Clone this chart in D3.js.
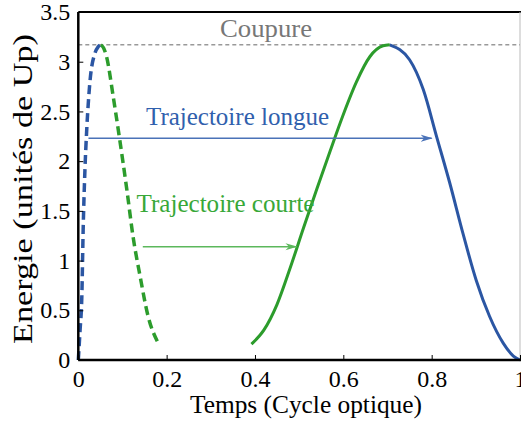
<!DOCTYPE html>
<html>
<head>
<meta charset="utf-8">
<script src="https://cdn.jsdelivr.net/npm/d3@7"></script>
<style>
  body { margin: 0; background: #fff; }
  svg { display: block; }
  text { font-family: "Liberation Serif", "Times New Roman", serif; }
</style>
</head>
<body>
<svg id="chart" width="521" height="425"></svg>
<script>
// ---- Data ----
const xTicks = [0, 0.2, 0.4, 0.6, 0.8, 1];
const yTicks = [0, 0.5, 1, 1.5, 2, 2.5, 3, 3.5];
const cutoff = 3.17;

// Long trajectory: ionisation (dashed) and recombination (solid)
const longIonT = [0.0, 0.004, 0.008, 0.011, 0.015, 0.019, 0.026, 0.038, 0.045, 0.051];
const longIonE = [0.0, 0.30, 0.64, 1.31, 1.91, 2.31, 2.78, 3.09, 3.15, 3.17];
const longRecT = [0.705, 0.750, 0.781, 0.811, 0.841, 0.871, 0.901, 0.931, 0.962, 0.985, 1.0];
const longRecE = [3.17, 3.02, 2.72, 2.25, 1.78, 1.27, 0.80, 0.44, 0.17, 0.04, 0.0];

// Short trajectory: ionisation (dashed) and recombination (solid)
const shortIonT = [0.051, 0.057, 0.064, 0.079, 0.094, 0.110, 0.124, 0.140, 0.158, 0.181];
const shortIonE = [3.17, 3.14, 3.05, 2.65, 2.21, 1.71, 1.24, 0.84, 0.44, 0.17];
const shortRecT = [0.392, 0.42, 0.45, 0.48, 0.51, 0.54, 0.57, 0.60, 0.63, 0.66, 0.69, 0.705];
const shortRecE = [0.16, 0.30, 0.56, 0.93, 1.33, 1.72, 2.10, 2.47, 2.80, 3.05, 3.16, 3.17];

// Arrows [t start, t end, energy]
const longArrow = [0.023, 0.80, 2.23];
const shortArrow = [0.146, 0.494, 1.14];

const labels = {
  cutoff: "Coupure",
  long: "Trajectoire longue",
  short: "Trajectoire courte",
  x: "Temps (Cycle optique)",
  y: "Energie (unités de Up)"
};

// ---- Drawing ----
const svg = d3.select("#chart");
const x = d3.scaleLinear().domain([0, 1]).range([78.3, 520]);
const y = d3.scaleLinear().domain([0, 3.5]).range([360, 12]);

const blue = "#2b56a3", green = "#2c9c2c";
const blueArrow = "#4a72b8", greenArrow = "#5cb85c";

const defs = svg.append("defs");
function marker(id, color) {
  defs.append("marker").attr("id", id)
    .attr("viewBox", "0 -4 12 8").attr("refX", 11).attr("refY", 0)
    .attr("markerUnits", "userSpaceOnUse")
    .attr("markerWidth", 12).attr("markerHeight", 8).attr("orient", "auto")
    .append("path").attr("d", "M0,-3.5 L12,0 L0,3.5 L3.5,0 Z").attr("fill", color);
}
marker("ab", blueArrow);
marker("ag", greenArrow);

// frame: top + right
svg.append("line").attr("x1", x(0)).attr("x2", 521).attr("y1", y(3.5)).attr("y2", y(3.5))
  .attr("stroke", "#000").attr("stroke-width", 2);
svg.append("line").attr("x1", x(1)).attr("x2", x(1)).attr("y1", y(3.5)).attr("y2", y(0))
  .attr("stroke", "#bbb").attr("stroke-width", 1);

// cutoff line
svg.append("line").attr("x1", x(0)).attr("x2", x(1)).attr("y1", y(cutoff)).attr("y2", y(cutoff))
  .attr("stroke", "#999").attr("stroke-width", 1.5).attr("stroke-dasharray", "4,3");

svg.append("text").attr("x", 220).attr("y", 37).attr("font-size", 26).attr("fill", "#777")
  .attr("textLength", 92).attr("lengthAdjust", "spacingAndGlyphs")
  .text(labels.cutoff);

// curves
const line = d3.line().x(d => x(d[0])).y(d => y(d[1])).curve(d3.curveMonotoneX);
const zip = (a, b) => a.map((v, i) => [v, b[i]]);

svg.append("path").attr("d", line(zip(shortIonT, shortIonE))).attr("fill", "none")
  .attr("stroke", green).attr("stroke-width", 3.5).attr("stroke-dasharray", "9,5");
svg.append("path").attr("d", line(zip(longIonT, longIonE))).attr("fill", "none")
  .attr("stroke", blue).attr("stroke-width", 3.5).attr("stroke-dasharray", "9,5");
svg.append("path").attr("d", line(zip(longRecT, longRecE))).attr("fill", "none")
  .attr("stroke", blue).attr("stroke-width", 3);
svg.append("path").attr("d", line(zip(shortRecT, shortRecE))).attr("fill", "none")
  .attr("stroke", green).attr("stroke-width", 3);

// arrows
svg.append("line").attr("x1", x(longArrow[0])).attr("x2", x(longArrow[1]))
  .attr("y1", y(longArrow[2])).attr("y2", y(longArrow[2]))
  .attr("stroke", blueArrow).attr("stroke-width", 1.5).attr("marker-end", "url(#ab)");
svg.append("line").attr("x1", x(shortArrow[0])).attr("x2", x(shortArrow[1]))
  .attr("y1", y(shortArrow[2])).attr("y2", y(shortArrow[2]))
  .attr("stroke", greenArrow).attr("stroke-width", 1.5).attr("marker-end", "url(#ag)");

svg.append("text").attr("x", 146).attr("y", 124.5).attr("font-size", 25).attr("fill", "#3060ad")
  .attr("textLength", 183).attr("lengthAdjust", "spacingAndGlyphs")
  .text(labels.long);
svg.append("text").attr("x", 136.5).attr("y", 211.5).attr("font-size", 25).attr("fill", "#38a838")
  .attr("textLength", 178).attr("lengthAdjust", "spacingAndGlyphs")
  .text(labels.short);

// axes
const xAxis = d3.axisBottom(x).tickValues(xTicks).tickSize(-5).tickPadding(10)
  .tickFormat(d3.format("~g"));
const gx = svg.append("g").attr("transform", `translate(0,${y(0)})`).call(xAxis);
const yAxis = d3.axisLeft(y).tickValues(yTicks).tickSize(-5).tickPadding(8)
  .tickFormat(d3.format("~g"));
const gy = svg.append("g").attr("transform", `translate(${x(0)},0)`).call(yAxis);

[gx, gy].forEach(g => {
  g.select(".domain").attr("stroke", "#000").attr("stroke-width", 2.5);
  g.selectAll(".tick line").attr("stroke", "#000").attr("stroke-width", 1);
  g.selectAll(".tick text").attr("font-size", 24).attr("fill", "#000")
    .attr("font-family", '"Liberation Serif", serif');
});
gx.select(".domain").attr("d", `M${x(0)},0H521`);
gx.selectAll(".tick text").attr("dy", "0.71em").attr("y", 10);
gy.select(".domain").attr("d", `M0,${y(0)}V${y(3.5)}`);

svg.append("text").attr("x", 306).attr("y", 413).attr("text-anchor", "middle")
  .attr("font-size", 25).attr("textLength", 232).attr("lengthAdjust", "spacingAndGlyphs")
  .text(labels.x);
svg.append("text").attr("transform", "translate(32,189) rotate(-90)").attr("text-anchor", "middle")
  .attr("font-size", 28).attr("textLength", 310).attr("lengthAdjust", "spacingAndGlyphs")
  .text(labels.y);
</script>
</body>
</html>
